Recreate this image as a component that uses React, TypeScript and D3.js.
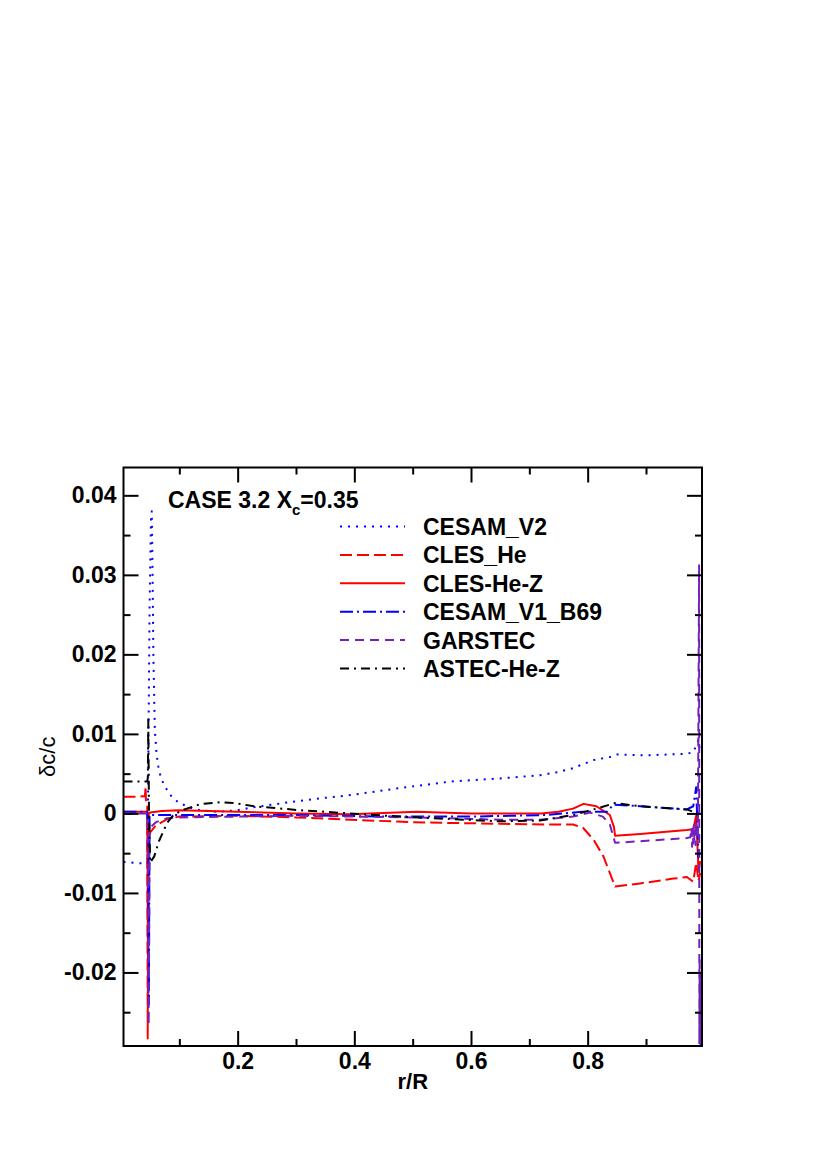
import React, { useEffect, useRef } from "react";
import * as d3 from "d3";

// r/R , delta c / c
const cesamV2 = [
  [0.0043, -0.0061], [0.02, -0.0062], [0.04, -0.0063], [0.0455, -0.0064],
  [0.047, 0.008], [0.049, 0.026], [0.0515, 0.0375], [0.0528, 0.038],
  [0.054, 0.031], [0.0555, 0.02], [0.058, 0.0105], [0.061, 0.0075],
  [0.064, 0.0059], [0.068, 0.0046], [0.0725, 0.0038], [0.08, 0.0028],
  [0.087, 0.0021], [0.1, 0.0013], [0.12, 0.0007], [0.135, 0.0004],
  [0.165, 0.0002], [0.2, 0.0004], [0.221, 0.0007], [0.278, 0.0013],
  [0.33, 0.0018], [0.393, 0.0023], [0.45, 0.0029], [0.5, 0.0034],
  [0.564, 0.004], [0.65, 0.0044], [0.718, 0.0048], [0.75, 0.0052],
  [0.775, 0.0057], [0.81, 0.0067], [0.838, 0.0071], [0.85, 0.0074],
  [0.9, 0.0073], [0.97, 0.0075], [0.981, 0.0077], [0.986, 0.0085],
  [0.99, 0.0092], [0.993, 0.0075],
];

const clesHe = [
  [0.0043, 0.0021], [0.03, 0.0021], [0.041, 0.0022], [0.0423, 0.0034],
  [0.0428, 0.0013], [0.045, 0.0012], [0.0458, -0.0283], [0.047, -0.002],
  [0.05, -0.0024], [0.06, -0.0015], [0.08, -0.0007], [0.1, -0.0004],
  [0.2, -0.0003], [0.3, -0.0005], [0.393, -0.0008], [0.5, -0.0011],
  [0.564, -0.0012], [0.65, -0.0013], [0.73, -0.0014], [0.775, -0.0014],
  [0.792, -0.0018], [0.81, -0.0033], [0.827, -0.0054], [0.847, -0.0092],
  [0.89, -0.0088], [0.947, -0.0082], [0.97, -0.008], [0.981, -0.0086],
  [0.986, -0.0062], [0.99, -0.0085], [0.993, -0.0075],
];

const clesHeZ = [
  [0.0043, 0.0002], [0.045, 0.0002], [0.0465, -0.022], [0.0475, 0.0],
  [0.05, 0.0001], [0.07, 0.0003], [0.1, 0.0004], [0.2, 0.0002],
  [0.3, 0.0], [0.393, -0.0001], [0.507, 0.0002], [0.6, 0.0],
  [0.72, 0.0], [0.75, 0.0002], [0.775, 0.0006], [0.793, 0.0012],
  [0.815, 0.0009], [0.838, -0.0002], [0.845, -0.0017], [0.847, -0.0028],
  [0.89, -0.0026], [0.97, -0.0021], [0.981, -0.002], [0.986, -0.0003],
  [0.99, -0.0072], [0.993, -0.006],
];

const cesamV1B69 = [
  [0.0043, 0.0002], [0.045, 0.0002], [0.0465, -0.002], [0.0478, -0.024],
  [0.049, -0.0002], [0.07, -0.0002], [0.2, -0.0002], [0.3, -0.0002],
  [0.45, -0.0004], [0.6, -0.0004], [0.73, -0.0002], [0.79, 0.0002],
  [0.833, 0.0002], [0.844, 0.0011], [0.89, 0.0009], [0.97, 0.0005],
  [0.981, 0.0009], [0.986, 0.0033], [0.99, -0.0055], [0.993, -0.0045],
];

const garstec = [
  [0.0043, 0.0], [0.046, 0.0], [0.0475, -0.0266], [0.049, -0.003],
  [0.051, -0.0017], [0.06, -0.0011], [0.079, -0.0006], [0.1, -0.0005],
  [0.2, -0.0004], [0.3, -0.0003], [0.4, -0.0004], [0.5, -0.0005],
  [0.564, -0.0006], [0.65, -0.0008], [0.718, -0.0008], [0.775, -0.0004],
  [0.804, 0.0001], [0.826, -0.0004], [0.838, -0.0014], [0.847, -0.0037],
  [0.89, -0.0035], [0.97, -0.0031], [0.976, -0.003], [0.978, -0.0018],
  [0.979, -0.0042], [0.98, -0.002], [0.981, -0.0038], [0.982, -0.0015],
  [0.983, -0.0035], [0.984, -0.0022], [0.985, -0.004], [0.986, -0.001],
  [0.987, -0.003], [0.989, -0.002], [0.991, 0.0312], [0.9915, -0.029],
  [0.992, -0.018], [0.9925, -0.03], [0.993, -0.02], [0.9935, -0.03],
];

const astecHeZ = [
  [0.0043, 0.004], [0.045, 0.004], [0.046, 0.0045], [0.0468, 0.0118],
  [0.048, 0.0], [0.05, -0.0062], [0.057, -0.0054], [0.065, -0.0035],
  [0.079, -0.0012], [0.09, -0.0002], [0.105, 0.0004], [0.137, 0.0012],
  [0.17, 0.0014], [0.194, 0.0013], [0.228, 0.0009], [0.307, 0.0004],
  [0.393, 0.0], [0.478, -0.0004], [0.564, -0.0007], [0.65, -0.001],
  [0.718, -0.0009], [0.775, -0.0002], [0.81, 0.0005], [0.847, 0.0013],
  [0.89, 0.0009], [0.97, 0.0005], [0.981, 0.0002],
];

const seriesNames = ["CESAM_V2", "CLES_He", "CLES-He-Z", "CESAM_V1_B69", "GARSTEC", "ASTEC-He-Z"];
const seriesData = [cesamV2, clesHe, clesHeZ, cesamV1B69, garstec, astecHeZ];
const seriesColors = ["#0000ff", "#ff0000", "#ff0000", "#0000ff", "#7221bc", "#000000"];
const seriesDash = ["2,6", "12,5", null, "13,4,2,4", "9,6", "9,5,2,5"];

const xMajor = [0.2, 0.4, 0.6, 0.8];
const xMinor = [0.1, 0.3, 0.5, 0.7, 0.9];
const yMajor = [-0.02, -0.01, 0, 0.01, 0.02, 0.03, 0.04];
const yMinor = [-0.025, -0.015, -0.005, 0.005, 0.015, 0.025, 0.035];

const FONT = "'Liberation Sans', Arial, Helvetica, sans-serif";

const App = () => {
  const ref = useRef(null);

  useEffect(() => {
    const left = 123.5, right = 702, top = 467.5, bottom = 1046;
    const svg = d3.select(ref.current);
    svg.selectAll("*").remove();

    const x = d3.scaleLinear().domain([0.0043, 0.996]).range([left, right]);
    const y = d3.scaleLinear().domain([-0.02925, 0.0435]).range([bottom, top]);
    const fmt = (d) => String(+(+d).toFixed(2));

    svg.append("defs").append("clipPath").attr("id", "plotclip")
      .append("rect").attr("x", left).attr("y", top)
      .attr("width", right - left).attr("height", bottom - top);

    const line = d3.line().x(d => x(d[0])).y(d => y(d[1]));

    const plot = svg.append("g").attr("clip-path", "url(#plotclip)");
    seriesData.forEach((data, i) => {
      plot.append("path")
        .attr("d", line(data))
        .attr("fill", "none")
        .attr("stroke", seriesColors[i])
        .attr("stroke-width", 2)
        .attr("stroke-dasharray", seriesDash[i])
        .attr("stroke-linejoin", "round");
    });

    // axes, ticks inward on all four sides
    const styleAxis = (g) => {
      g.select(".domain").remove();
      g.selectAll("line").attr("stroke", "#000").attr("stroke-width", 2);
      g.selectAll("text").attr("font-family", FONT).attr("font-weight", "bold")
        .attr("font-size", 23).attr("fill", "#000");
    };

    svg.append("g").attr("transform", `translate(0,${bottom})`)
      .call(d3.axisBottom(x).tickValues(xMajor).tickSizeInner(-15).tickSizeOuter(0).tickPadding(7).tickFormat(fmt))
      .call(styleAxis);
    svg.append("g").attr("transform", `translate(0,${bottom})`)
      .call(d3.axisBottom(x).tickValues(xMinor).tickSizeInner(-7).tickSizeOuter(0).tickFormat(() => ""))
      .call(styleAxis);
    svg.append("g").attr("transform", `translate(0,${top})`)
      .call(d3.axisTop(x).tickValues(xMajor).tickSizeInner(-15).tickSizeOuter(0).tickFormat(() => ""))
      .call(styleAxis);
    svg.append("g").attr("transform", `translate(0,${top})`)
      .call(d3.axisTop(x).tickValues(xMinor).tickSizeInner(-7).tickSizeOuter(0).tickFormat(() => ""))
      .call(styleAxis);

    svg.append("g").attr("transform", `translate(${left},0)`)
      .call(d3.axisLeft(y).tickValues(yMajor).tickSizeInner(-15).tickSizeOuter(0).tickPadding(7).tickFormat(fmt))
      .call(styleAxis);
    svg.append("g").attr("transform", `translate(${left},0)`)
      .call(d3.axisLeft(y).tickValues(yMinor).tickSizeInner(-7).tickSizeOuter(0).tickFormat(() => ""))
      .call(styleAxis);
    svg.append("g").attr("transform", `translate(${right},0)`)
      .call(d3.axisRight(y).tickValues(yMajor).tickSizeInner(-15).tickSizeOuter(0).tickFormat(() => ""))
      .call(styleAxis);
    svg.append("g").attr("transform", `translate(${right},0)`)
      .call(d3.axisRight(y).tickValues(yMinor).tickSizeInner(-7).tickSizeOuter(0).tickFormat(() => ""))
      .call(styleAxis);

    svg.append("rect")
      .attr("x", left).attr("y", top)
      .attr("width", right - left).attr("height", bottom - top)
      .attr("fill", "none").attr("stroke", "#000").attr("stroke-width", 2);

    // axis titles
    svg.append("text")
      .attr("x", (left + right) / 2).attr("y", 1089)
      .attr("text-anchor", "middle")
      .attr("font-family", FONT).attr("font-weight", "bold").attr("font-size", 22)
      .text("r/R");
    svg.append("text")
      .attr("transform", `translate(55,${(top + bottom) / 2}) rotate(-90)`)
      .attr("text-anchor", "middle")
      .attr("font-family", FONT).attr("font-size", 22)
      .text("δc/c");

    // title
    const title = svg.append("text")
      .attr("x", 168).attr("y", 508)
      .attr("font-family", FONT).attr("font-weight", "bold").attr("font-size", 23);
    title.append("tspan").text("CASE 3.2 X");
    title.append("tspan").attr("font-size", 15).attr("dy", 7).text("c");
    title.append("tspan").attr("dy", -7).text("=0.35");

    // legend
    const legend = svg.selectAll(".legend")
      .data(seriesNames)
      .enter()
      .append("g")
      .attr("class", "legend")
      .attr("transform", (d, i) => `translate(0,${535 + i * 28.4})`);
    legend.append("line")
      .attr("x1", 340).attr("x2", 405)
      .attr("y1", -8.5).attr("y2", -8.5)
      .attr("stroke", (d, i) => seriesColors[i])
      .attr("stroke-width", 2)
      .attr("stroke-dasharray", (d, i) => seriesDash[i]);
    legend.append("text")
      .attr("x", 423).attr("y", 0)
      .attr("font-family", FONT).attr("font-weight", "bold").attr("font-size", 23)
      .text(d => d);
  }, []);

  return (
    <svg ref={ref} width={827} height={1170}
      style={{ position: "absolute", left: 0, top: 0, background: "#fff" }} />
  );
};

export default App;
